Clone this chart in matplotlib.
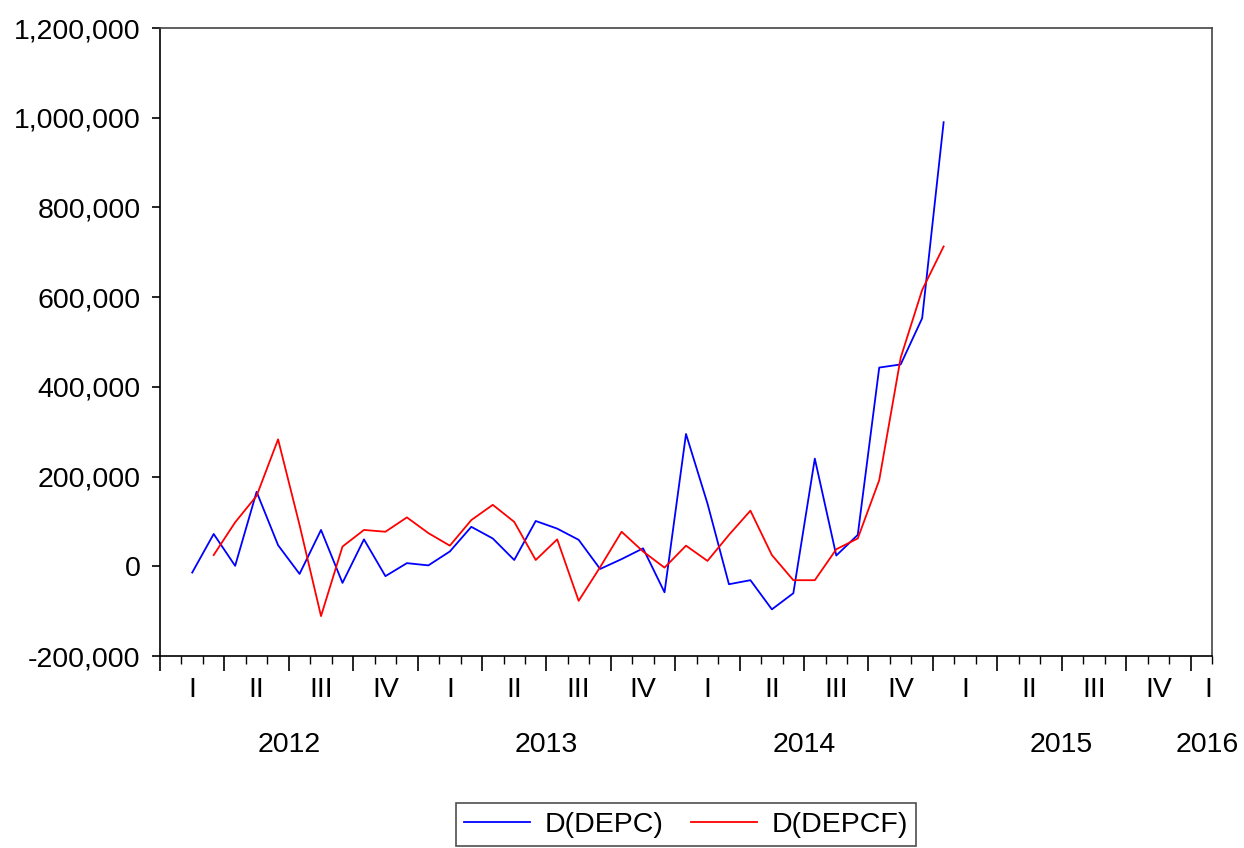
import numpy as np
import pandas as pd
import matplotlib
matplotlib.use("Agg")
import matplotlib.pyplot as plt
from matplotlib.ticker import FuncFormatter, MultipleLocator

plt.rcParams['font.family'] = ['Liberation Sans', 'DejaVu Sans']

# monthly first differences, D(DEPC) from 2012M02, D(DEPCF) from 2012M03, both to 2015M01
depc_months = pd.period_range('2012-02', '2015-01', freq='M')
depc = [-14000, 72000, 1000, 166000, 47000, -17000, 81000, -37000, 60000, -22000,
        7000, 2000, 33000, 88000, 62000, 14000, 101000, 84000, 59000, -6000,
        16000, 40000, -58000, 295000, 140000, -40000, -31000, -96000, -60000, 240000,
        24000, 70000, 443000, 450000, 553000, 990000]

depcf_months = pd.period_range('2012-03', '2015-01', freq='M')
depcf = [25000, 98000, 157000, 283000, 92000, -111000, 44000, 81000, 77000, 109000,
         74000, 46000, 103000, 137000, 99000, 14000, 60000, -77000, -2000, 77000,
         33000, -3000, 46000, 12000, 70000, 124000, 25000, -31000, -31000, 38000,
         62000, 192000, 465000, 616000, 713000]

quarter_names = ['I', 'II', 'III', 'IV']
years = [2012, 2013, 2014, 2015, 2016]
start_year = 2012
n_months = 49  # 2012M01 .. 2016M01
fs = 20.5


def month_pos(periods):
    # centre of each month, counted from the start of 2012
    return np.array([(p.year - start_year) * 12 + (p.month - 1) + 0.5 for p in periods])


fig = plt.figure(figsize=(12.44, 8.48), dpi=100)
ax = fig.add_axes([160 / 1244, 1 - 656 / 848, (1212 - 160) / 1244, (656 - 28) / 848])

ax.plot(month_pos(depc_months), depc, color='#0000FF', lw=1.3, label='D(DEPC)')
ax.plot(month_pos(depcf_months), depcf, color='#FF0000', lw=1.3, label='D(DEPCF)')

ax.set_xlim(0, n_months)
ax.set_ylim(-200000, 1200000)
ax.yaxis.set_major_locator(MultipleLocator(200000))
ax.yaxis.set_major_formatter(FuncFormatter(lambda v, p: f'{int(v):,}'))

ax.set_xticks(np.arange(0, n_months + 1, 3))
ax.set_xticks(np.arange(0, n_months + 1, 1), minor=True)
ax.set_xticklabels([])
ax.tick_params(axis='x', which='major', direction='out', length=11, width=1.2)
ax.tick_params(axis='x', which='minor', direction='out', length=6, width=1.0)
ax.tick_params(axis='y', direction='out', length=6, width=1.2, pad=8, labelsize=fs)

for side in ['left', 'bottom']:
    ax.spines[side].set_color('black')
    ax.spines[side].set_linewidth(1.2)
for side in ['top', 'right']:
    ax.spines[side].set_color('#444444')
    ax.spines[side].set_linewidth(1.2)

trans = ax.get_xaxis_transform()
# quarter labels
for k in range(n_months // 3):
    ax.text(3 * k + 1.5, -0.054, quarter_names[k % 4], transform=trans,
            ha='center', va='center', fontsize=fs)
ax.text(n_months - 0.15, -0.054, 'I', transform=trans, ha='center', va='center', fontsize=fs)

# year labels
for j, yr in enumerate(years[:-1]):
    ax.text(12 * j + 6, -0.142, str(yr), transform=trans, ha='center', va='center', fontsize=fs)
ax.text(n_months - 0.2, -0.142, str(years[-1]), transform=trans, ha='center', va='center', fontsize=fs)

leg = fig.legend(loc='upper center', bbox_to_anchor=(686 / 1244, 1 - 803 / 848), ncol=2,
                 fontsize=fs, frameon=True, fancybox=False, handlelength=2.3,
                 columnspacing=1.0, handletextpad=0.5, borderpad=0.3, borderaxespad=0)
leg.get_frame().set_edgecolor('#222222')
leg.get_frame().set_linewidth(1.2)

fig.savefig('out.png', dpi=100)
